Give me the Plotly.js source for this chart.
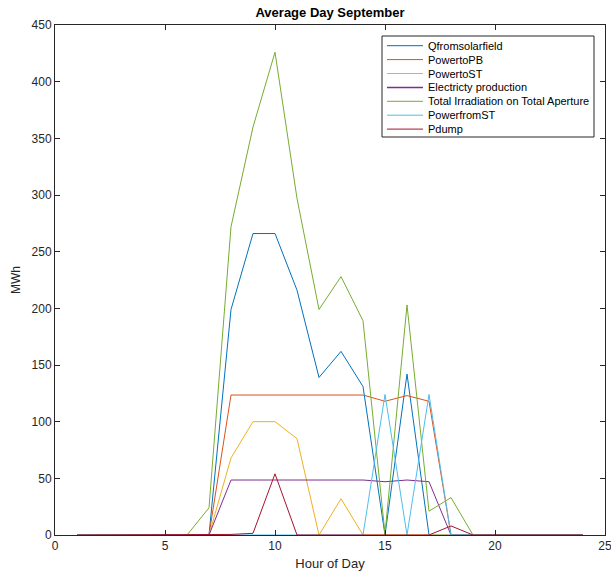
<!DOCTYPE html>
<html>
<head>
<meta charset="utf-8">
<script src="https://cdn.plot.ly/plotly-3.0.1.min.js"></script>
<style>html,body{margin:0;padding:0;background:#fff;}#chart{width:611px;height:575px;}</style>
</head>
<body>
<div id="chart"></div>
<script>
const hours = [1,2,3,4,5,6,7,8,9,10,11,12,13,14,15,16,17,18,19,20,21,22,23,24];
const qFromSolarField = [0,0,0,0,0,0,0,199,266,266,216,139,162,131,0,142,0,0,0,0,0,0,0,0];
const powerToPB = [0,0,0,0,0,0,0,123.5,123.5,123.5,123.5,123.5,123.5,123.5,118,123,118,0,0,0,0,0,0,0];
const powerToST = [0,0,0,0,0,0,0,68,100,100,85,0,32,0,0,0,0,0,0,0,0,0,0,0];
const electricityProduction = [0,0,0,0,0,0,0,48.5,48.5,48.5,48.5,48.5,48.5,48.5,47,48.5,47,0,0,0,0,0,0,0];
const totalIrradiation = [0,0,0,0,0,0,24,272,360,426,297,199,228,189,1,203,21,33,0,0,0,0,0,0];
const powerFromST = [0,0,0,0,0,0,0,0,0,0,0,0,0,0,124,0,124,0,0,0,0,0,0,0];
const pDump = [0,0,0,0,0,0,0,0.5,1.5,54,0,0,0,0,0,0,0,8,0,0,0,0,0,0];

const names = ['Qfromsolarfield','PowertoPB','PowertoST','Electricty production','Total Irradiation on Total Aperture','PowerfromST','Pdump'];
const colors = ['#0072BD','#D95319','#EDB120','#7E2F8E','#77AC30','#4DBEEE','#A2142F'];
const series = [qFromSolarField, powerToPB, powerToST, electricityProduction, totalIrradiation, powerFromST, pDump];

const traces = series.map((s, i) => ({
  x: hours, y: s, type: 'scatter', mode: 'lines', name: names[i],
  line: {color: colors[i], width: 1}, showlegend: false
}));

// plot area geometry (px) for a MATLAB-style legend box
const W = 611, H = 575, L = 55, R = 6, T = 25, B = 40;
const pw = W - L - R, ph = H - T - B;
const px2x = p => (p - L) / pw;
const py2y = p => (H - B - p) / ph;

const legBox = {x0: 382, x1: 594, y0: 36, y1: 137};
const rowY0 = 45.7, rowStep = 13.9;
const shapes = [{
  type: 'rect', xref: 'paper', yref: 'paper',
  x0: px2x(legBox.x0), x1: px2x(legBox.x1), y0: py2y(legBox.y1), y1: py2y(legBox.y0),
  line: {color: '#262626', width: 1}, fillcolor: '#ffffff', layer: 'above'
}];
const annotations = [];
names.forEach((n, i) => {
  const yy = py2y(rowY0 + i * rowStep);
  shapes.push({type: 'line', xref: 'paper', yref: 'paper', x0: px2x(387), x1: px2x(423), y0: yy, y1: yy,
    line: {color: colors[i], width: i === 3 ? 1.5 : 1}, layer: 'above'});
  annotations.push({xref: 'paper', yref: 'paper', x: px2x(426), y: yy, xanchor: 'left', yanchor: 'middle',
    text: n, showarrow: false, font: {family: 'Liberation Sans, Arial, sans-serif', size: 11, color: '#000'}});
});

const axisCommon = {
  showgrid: false, zeroline: false, showline: true, linecolor: '#262626', linewidth: 1,
  mirror: 'ticks', ticks: 'inside', ticklen: 5, tickcolor: '#262626', ticklabeloverflow: 'allow',
  tickfont: {family: 'Liberation Sans, Arial, sans-serif', size: 12, color: '#262626'}
};

const layout = {
  width: W, height: H,
  margin: {l: L, r: R, t: T, b: B},
  paper_bgcolor: '#ffffff', plot_bgcolor: '#ffffff',
  title: {text: '<b>Average Day September</b>', x: 0.5, xref: 'paper', y: 0.979, yanchor: 'middle',
    font: {family: 'Liberation Sans, Arial, sans-serif', size: 13, color: '#000'}},
  xaxis: Object.assign({}, axisCommon, {range: [0, 25], tickvals: [0,5,10,15,20,25],
    title: {text: 'Hour of Day', standoff: 6, font: {family: 'Liberation Sans, Arial, sans-serif', size: 13, color: '#262626'}}}),
  yaxis: Object.assign({}, axisCommon, {range: [0, 450], tickvals: [0,50,100,150,200,250,300,350,400,450],
    title: {text: 'MWh', standoff: 8, font: {family: 'Liberation Sans, Arial, sans-serif', size: 12, color: '#262626'}}}),
  showlegend: false,
  shapes: shapes,
  annotations: annotations
};

Plotly.newPlot('chart', traces, layout, {displayModeBar: false, staticPlot: true});
</script>
</body>
</html>
